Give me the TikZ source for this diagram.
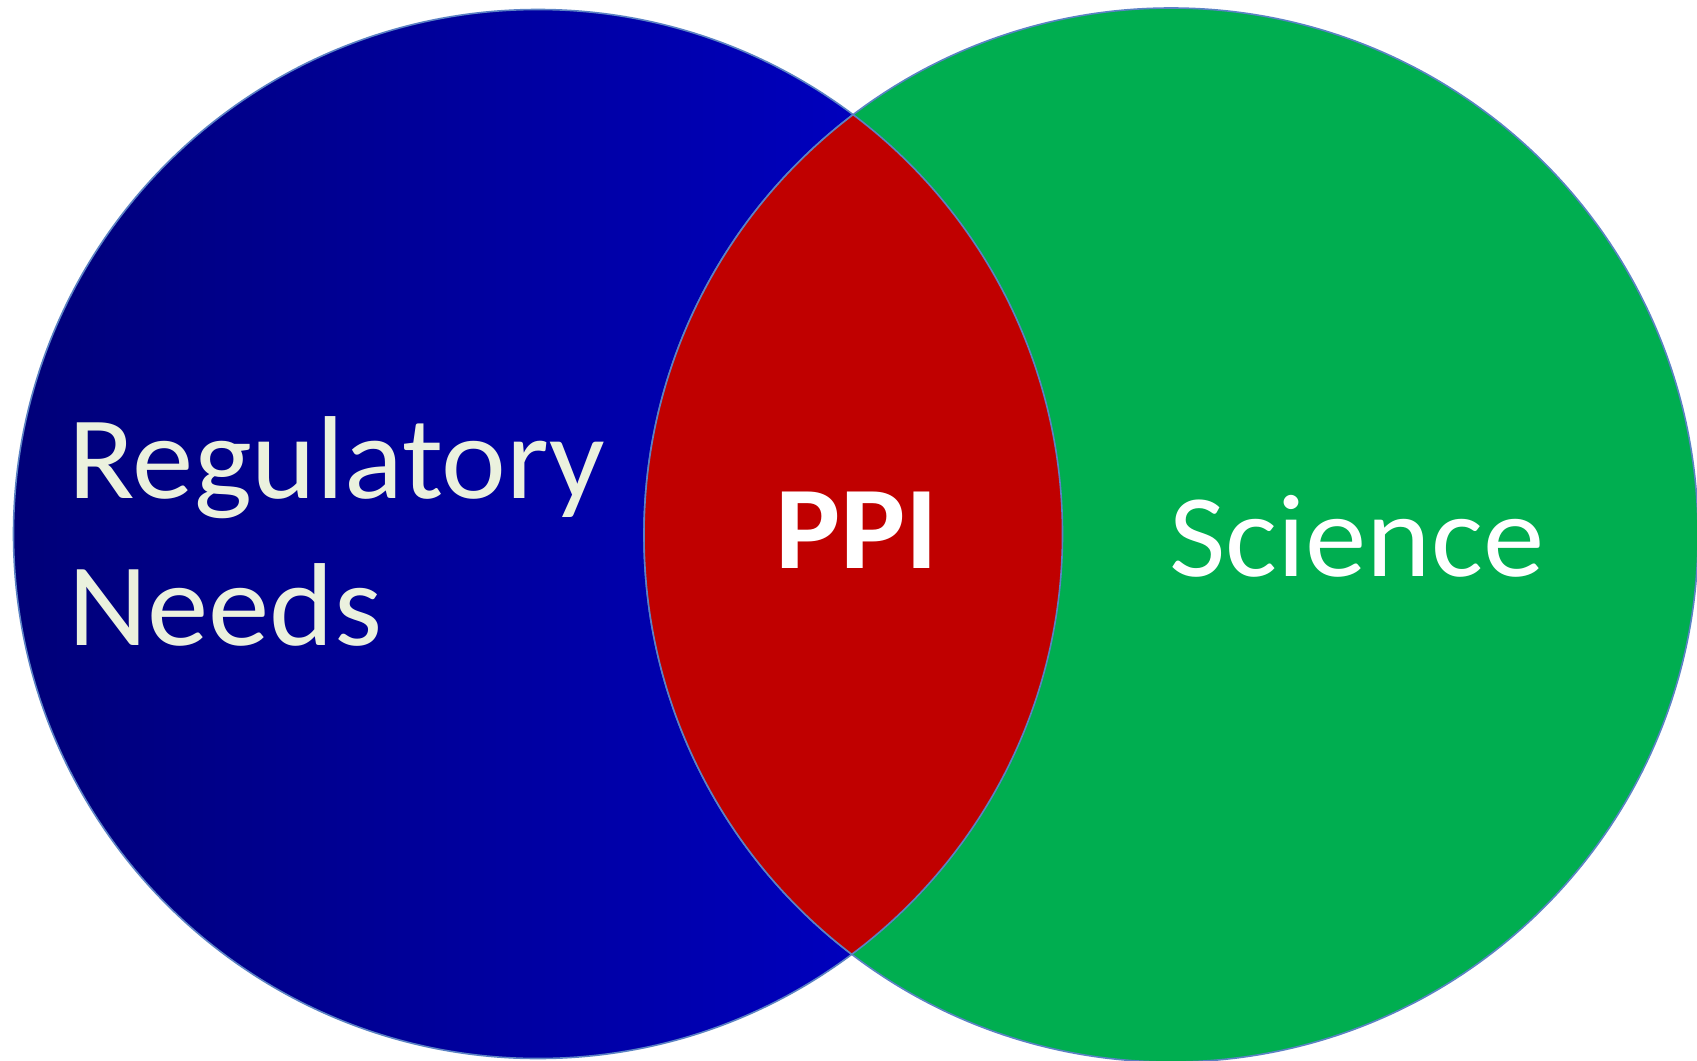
\documentclass[tikz,border=0pt]{standalone}
\usepackage{fontspec}
\setmainfont{Carlito}
\definecolor{navyL}{HTML}{000078}
\definecolor{blueR}{HTML}{0000CE}
\definecolor{vgreen}{HTML}{00AE50}
\definecolor{vred}{HTML}{C00000}
\definecolor{rim}{HTML}{5B82C4}
\definecolor{cream}{HTML}{EBF1DE}
\tikzset{
  rimline/.style={draw=rim, line width=0.8pt},
  bigtext/.style={inner sep=0pt, font=\fontsize{59pt}{73.5pt}\selectfont},
}
\newcommand{\wide}[1]{\scalebox{1.04}[1]{#1}}
\begin{document}
\begin{tikzpicture}[x=0.5pt, y=-0.5pt]
  \useasboundingbox (0,0) rectangle (1697,1060);
  % circle centres and radii
  \coordinate (cl) at (538,534);
  \coordinate (cr) at (1171,535);
  \def\rl{262.25pt}
  \def\rr{263.5pt}
  % left set: horizontal navy-to-blue shading
  \shade[left color=navyL, right color=blueR, rimline] (cl) circle [radius=\rl];
  % right set
  \fill[vgreen] (cr) circle [radius=\rr];
  \draw[rimline] (cr) circle [radius=\rr];
  % overlap
  \begin{scope}
    \clip (cr) circle [radius=\rr];
    \fill[vred] (cl) circle [radius=\rl];
    \draw[rimline] (cl) circle [radius=\rl];
  \end{scope}
  \begin{scope}
    \clip (cl) circle [radius=\rl];
    \draw[rimline] (cr) circle [radius=\rr];
  \end{scope}
  % labels
  \node[bigtext, text=cream, anchor=base west] (reg) at (68,498) {\wide{Regulatory}};
  \node[bigtext, text=cream, anchor=base west] (needs) at (68,645) {\wide{Needs}};
  \node[bigtext, text=white, anchor=base west, font=\fontsize{59pt}{73.5pt}\selectfont\bfseries] (ppi) at (775,568) {\wide{PPI}};
  \node[bigtext, text=white, anchor=base west] (sci) at (1169,576) {\wide{Science}};
\end{tikzpicture}
\end{document}
